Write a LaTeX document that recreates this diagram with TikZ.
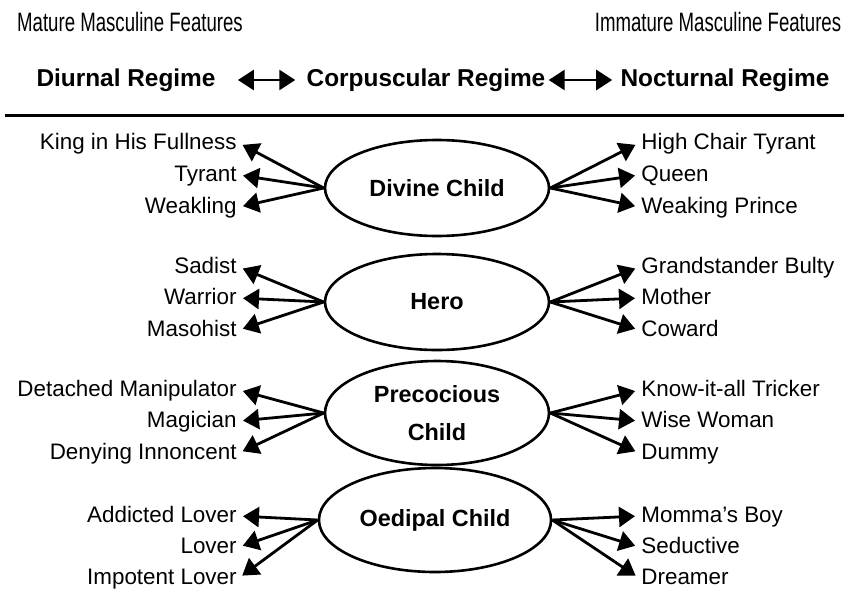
\documentclass[tikz,border=0pt]{standalone}
\usepackage{fontspec}
\setmainfont{Liberation Sans}
\newfontfamily\narrowfont[FakeStretch=0.7]{Liberation Sans}
\usetikzlibrary{arrows.meta,shapes.geometric}

\tikzstyle{child} = [draw=black,ellipse,line width=1.3pt,minimum width=112pt,minimum height=48pt,align=center,font=\fontsize{11.7}{19}\selectfont\bfseries]
\tikzstyle{trait} = [font=\fontsize{11.2}{13}\selectfont,inner sep=1pt,text height=8pt,text depth=2pt]
\tikzstyle{regime} = [font=\fontsize{12.2}{15}\selectfont\bfseries,inner sep=0pt,text height=9pt,text depth=3pt]
\tikzstyle{feature} = [font=\narrowfont\fontsize{13.3}{15}\selectfont,inner sep=0pt]
\tikzstyle{link} = [line width=1.4pt,-{Triangle[length=8pt,width=10pt]},shorten >=2pt]
\tikzstyle{swap} = [line width=1.4pt,{Triangle[length=8pt,width=10pt]}-{Triangle[length=8pt,width=10pt]}]

\begin{document}
\begin{tikzpicture}[x=0.5pt,y=-0.5pt]
	\useasboundingbox (0,0) rectangle (844,589);
	% header
	\node (mature) [feature] at (130,22) {Mature Masculine Features};
	\node (immature) [feature] at (718,22) {Immature Masculine Features};
	\node (diurnal) [regime] at (126,80) {Diurnal Regime};
	\node (corpus) [regime] at (426,80) {Corpuscular Regime};
	\node (nocturnal) [regime] at (725,80) {Nocturnal Regime};
	\draw [swap,shorten <=11pt,shorten >=5.5pt] (diurnal) -- (corpus);
	\draw [swap,shorten <=1.5pt,shorten >=4pt] (corpus) -- (nocturnal);
	\draw [line width=1.5pt] (5,115) -- (844,115);
	% children
	\node (divine) [child] at (437,188) {Divine Child};
	\node (hero) [child] at (437,302) {Hero};
	\node (precocious) [child,minimum height=52pt] at (437,413) {Precocious\\Child};
	\node (oedipal) [child,minimum height=52pt] at (435,520) {Oedipal Child};
	% mature traits
	\node (king) [trait,anchor=east] at (239,143) {King in His Fullness};
	\node (tyrant) [trait,anchor=east] at (239,175) {Tyrant};
	\node (weakling) [trait,anchor=east] at (239,207) {Weakling};
	\node (sadist) [trait,anchor=east] at (239,267) {Sadist};
	\node (warrior) [trait,anchor=east] at (239,298) {Warrior};
	\node (masohist) [trait,anchor=east] at (239,330) {Masohist};
	\node (manipulator) [trait,anchor=east] at (239,390) {Detached Manipulator};
	\node (magician) [trait,anchor=east] at (239,421) {Magician};
	\node (innocent) [trait,anchor=east] at (239,453) {Denying Innoncent};
	\node (addicted) [trait,anchor=east] at (239,516) {Addicted Lover};
	\node (lover) [trait,anchor=east] at (239,547) {Lover};
	\node (impotent) [trait,anchor=east] at (239,578) {Impotent Lover};
	% immature traits
	\node (highchair) [trait,anchor=west] at (639,143) {High Chair Tyrant};
	\node (queen) [trait,anchor=west] at (639,175) {Queen};
	\node (prince) [trait,anchor=west] at (639,207) {Weaking Prince};
	\node (bully) [trait,anchor=west] at (639,267) {Grandstander Bulty};
	\node (mother) [trait,anchor=west] at (639,298) {Mother};
	\node (coward) [trait,anchor=west] at (639,330) {Coward};
	\node (trickster) [trait,anchor=west] at (639,390) {Know-it-all Tricker};
	\node (wise) [trait,anchor=west] at (639,421) {Wise Woman};
	\node (dummy) [trait,anchor=west] at (639,453) {Dummy};
	\node (momma) [trait,anchor=west] at (639,516) {Momma's Boy};
	\node (seductive) [trait,anchor=west] at (639,547) {Seductive};
	\node (dreamer) [trait,anchor=west] at (639,578) {Dreamer};
	% connections
	\draw [link] (divine.west) -- (king.east);
	\draw [link] (divine.west) -- (tyrant.east);
	\draw [link] (divine.west) -- (weakling.east);
	\draw [link] (divine.east) -- (highchair.west);
	\draw [link] (divine.east) -- (queen.west);
	\draw [link] (divine.east) -- (prince.west);
	\draw [link] (hero.west) -- (sadist.east);
	\draw [link] (hero.west) -- (warrior.east);
	\draw [link] (hero.west) -- (masohist.east);
	\draw [link] (hero.east) -- (bully.west);
	\draw [link] (hero.east) -- (mother.west);
	\draw [link] (hero.east) -- (coward.west);
	\draw [link] (precocious.west) -- (manipulator.east);
	\draw [link] (precocious.west) -- (magician.east);
	\draw [link] (precocious.west) -- (innocent.east);
	\draw [link] (precocious.east) -- (trickster.west);
	\draw [link] (precocious.east) -- (wise.west);
	\draw [link] (precocious.east) -- (dummy.west);
	\draw [link] (oedipal.west) -- (addicted.east);
	\draw [link] (oedipal.west) -- (lover.east);
	\draw [link] (oedipal.west) -- (impotent.east);
	\draw [link] (oedipal.east) -- (momma.west);
	\draw [link] (oedipal.east) -- (seductive.west);
	\draw [link] (oedipal.east) -- (dreamer.west);
\end{tikzpicture}
\end{document}
